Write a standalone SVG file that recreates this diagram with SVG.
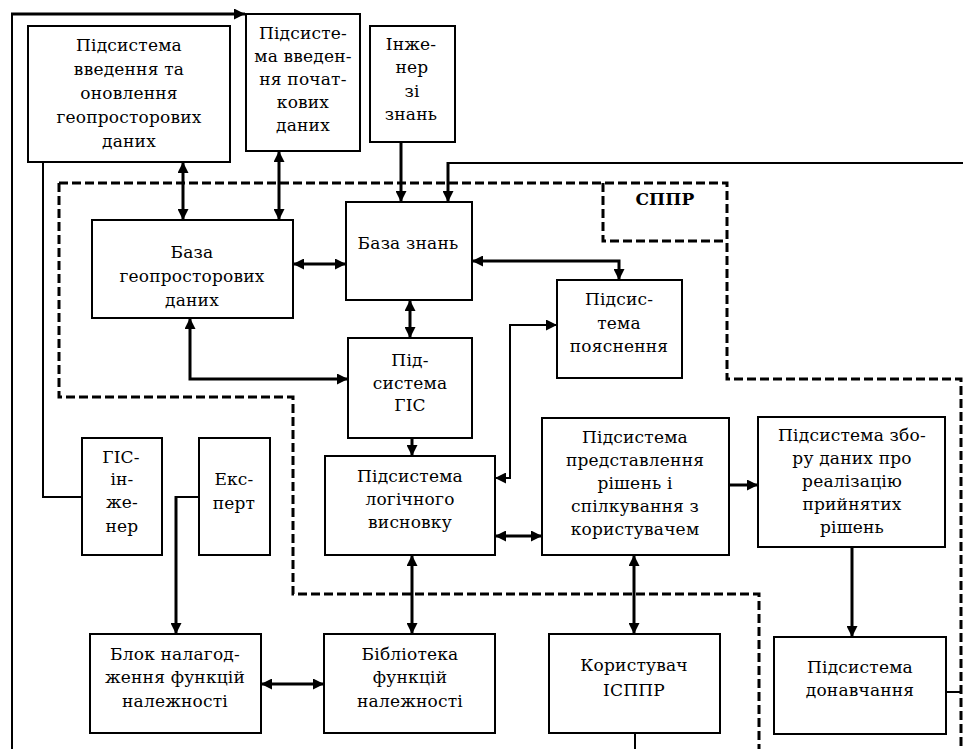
<svg xmlns="http://www.w3.org/2000/svg" width="963" height="749" viewBox="0 0 963 749">
<style>
.box{fill:#fff;stroke:#000;stroke-width:2}
.t{font-family:"DejaVu Serif","Liberation Serif",serif;font-size:17px;letter-spacing:0.2px;text-anchor:middle;fill:#000}
.b{font-weight:bold}
.thick{fill:none;stroke:#000;stroke-width:3}
.thin{fill:none;stroke:#000;stroke-width:2}
.dash{fill:none;stroke:#000;stroke-width:3;stroke-dasharray:9 4}
</style>
<defs>
<marker id="ah" viewBox="0 0 10 10" refX="10" refY="5" markerWidth="11" markerHeight="11" markerUnits="userSpaceOnUse" orient="auto-start-reverse">
<path d="M0,0 L10,5 L0,10 z" fill="#000"/>
</marker>
</defs>
<rect width="963" height="749" fill="#fff"/>

<g id="boundary">
<path class="dash" d="M59,183 H727 V379 H961 V749"/>
<path class="dash" d="M59,183 V397 H293 V594 H759 V749"/>
<path class="dash" d="M603,183 V241 H727"/>
<text class="t b" x="665" y="205">СППР</text>
</g>

<g id="connectors">
<path class="thin" d="M12,749 V14"/>
<path class="thick" d="M11,14 H245" marker-end="url(#ah)"/>
<path class="thin" d="M43,162 V497 H82"/>
<path class="thick" d="M183,162 V220" marker-start="url(#ah)" marker-end="url(#ah)"/>
<path class="thick" d="M279,151 V220" marker-start="url(#ah)" marker-end="url(#ah)"/>
<path class="thick" d="M401,142 V202" marker-end="url(#ah)"/>
<path class="thin" d="M963,163 H448"/>
<path class="thick" d="M448,162 V202" marker-end="url(#ah)"/>
<path class="thick" d="M293,264 H346" marker-start="url(#ah)" marker-end="url(#ah)"/>
<path class="thick" d="M472,261 H619 V280" marker-start="url(#ah)" marker-end="url(#ah)"/>
<path class="thick" d="M410,300 V338" marker-start="url(#ah)" marker-end="url(#ah)"/>
<path class="thick" d="M190,318 V379 H348" marker-start="url(#ah)" marker-end="url(#ah)"/>
<path class="thick" d="M412,438 V456" marker-end="url(#ah)"/>
<path class="thin" d="M495,478 H510 V325 H557" marker-start="url(#ah)" marker-end="url(#ah)"/>
<path class="thick" d="M495,536 H542" marker-start="url(#ah)" marker-end="url(#ah)"/>
<path class="thick" d="M412,555 V634" marker-start="url(#ah)" marker-end="url(#ah)"/>
<path class="thick" d="M261,684 H324" marker-start="url(#ah)" marker-end="url(#ah)"/>
<path class="thin" d="M199,497 H176"/>
<path class="thick" d="M176,496 V634" marker-end="url(#ah)"/>
<path class="thick" d="M729,485 H758" marker-end="url(#ah)"/>
<path class="thick" d="M634,555 V634" marker-start="url(#ah)" marker-end="url(#ah)"/>
<path class="thin" d="M635,733 V749"/>
<path class="thick" d="M852,547 V637" marker-end="url(#ah)"/>
<path class="thin" d="M946,692 H961"/>
</g>

<g id="n-vvedennya">
<rect class="box" x="28" y="26" width="202" height="136"/>
<text class="t" x="129" y="51">Підсистема</text>
<text class="t" x="129" y="75">введення та</text>
<text class="t" x="129" y="99">оновлення</text>
<text class="t" x="129" y="123">геопросторових</text>
<text class="t" x="129" y="147">даних</text>
</g>

<g id="n-pochatkovi">
<rect class="box" x="246" y="14" width="114" height="137"/>
<text class="t" x="303" y="39">Підсисте-</text>
<text class="t" x="303" y="62">ма введен-</text>
<text class="t" x="303" y="85">ня почат-</text>
<text class="t" x="303" y="108">кових</text>
<text class="t" x="303" y="131">даних</text>
</g>

<g id="n-inzhener">
<rect class="box" x="370" y="26" width="85" height="116"/>
<text class="t" x="411" y="50">Інже-</text>
<text class="t" x="412" y="73">нер</text>
<text class="t" x="412" y="97">зі</text>
<text class="t" x="411" y="120">знань</text>
</g>

<g id="n-baza-geo">
<rect class="box" x="92" y="220" width="201" height="98"/>
<text class="t" x="192" y="258">База</text>
<text class="t" x="192" y="282">геопросторових</text>
<text class="t" x="192" y="306">даних</text>
</g>

<g id="n-baza-znan">
<rect class="box" x="346" y="202" width="126" height="98"/>
<text class="t" x="408" y="249">База знань</text>
</g>

<g id="n-poyasnennya">
<rect class="box" x="557" y="280" width="125" height="98"/>
<text class="t" x="619" y="305">Підсис-</text>
<text class="t" x="619" y="329">тема</text>
<text class="t" x="619" y="352">пояснення</text>
</g>

<g id="n-gis">
<rect class="box" x="348" y="338" width="124" height="100"/>
<text class="t" x="410" y="366">Під-</text>
<text class="t" x="410" y="389">система</text>
<text class="t" x="410" y="411">ГІС</text>
</g>

<g id="n-gis-inzhener">
<rect class="box" x="82" y="438" width="80" height="117"/>
<text class="t" x="121" y="463">ГІС-</text>
<text class="t" x="122" y="485">ін-</text>
<text class="t" x="122" y="508">же-</text>
<text class="t" x="122" y="532">нер</text>
</g>

<g id="n-ekspert">
<rect class="box" x="199" y="438" width="71" height="117"/>
<text class="t" x="234" y="485">Екс-</text>
<text class="t" x="234" y="509">перт</text>
</g>

<g id="n-logika">
<rect class="box" x="325" y="456" width="170" height="99"/>
<text class="t" x="410" y="482">Підсистема</text>
<text class="t" x="410" y="505">логічного</text>
<text class="t" x="410" y="528">висновку</text>
</g>

<g id="n-predstavlennya">
<rect class="box" x="542" y="418" width="187" height="137"/>
<text class="t" x="635" y="443">Підсистема</text>
<text class="t" x="635" y="466">представлення</text>
<text class="t" x="635" y="489">рішень і</text>
<text class="t" x="635" y="512">спілкування з</text>
<text class="t" x="635" y="535">користувачем</text>
</g>

<g id="n-zboru">
<rect class="box" x="758" y="417" width="187" height="130"/>
<text class="t" x="852" y="441">Підсистема збо-</text>
<text class="t" x="852" y="464">ру даних про</text>
<text class="t" x="852" y="487">реалізацію</text>
<text class="t" x="852" y="510">прийнятих</text>
<text class="t" x="852" y="533">рішень</text>
</g>

<g id="n-blok">
<rect class="box" x="90" y="634" width="171" height="99"/>
<text class="t" x="175" y="660">Блок налагод-</text>
<text class="t" x="175" y="683">ження функцій</text>
<text class="t" x="175" y="707">належності</text>
</g>

<g id="n-biblioteka">
<rect class="box" x="324" y="634" width="171" height="99"/>
<text class="t" x="410" y="660">Бібліотека</text>
<text class="t" x="410" y="683">функцій</text>
<text class="t" x="410" y="707">належності</text>
</g>

<g id="n-korystuvach">
<rect class="box" x="549" y="634" width="171" height="99"/>
<text class="t" x="634" y="671">Користувач</text>
<text class="t" x="634" y="696">ІСППР</text>
</g>

<g id="n-donavchannya">
<rect class="box" x="774" y="637" width="172" height="97"/>
<text class="t" x="860" y="673">Підсистема</text>
<text class="t" x="860" y="696">донавчання</text>
</g>
</svg>
